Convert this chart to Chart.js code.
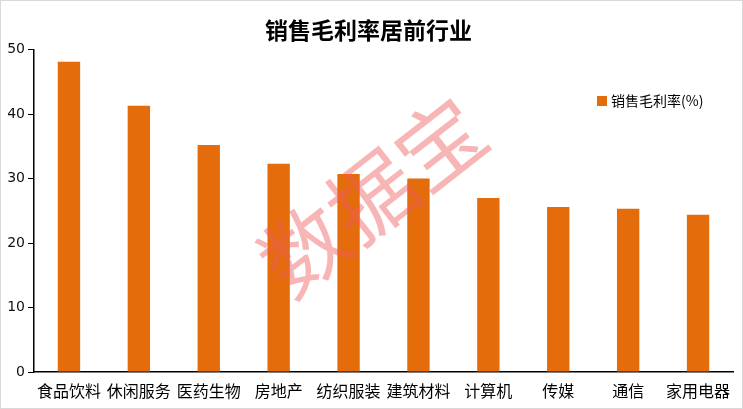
<!DOCTYPE html>
<html>
<head>
<meta charset="utf-8">
<script src="https://cdn.jsdelivr.net/npm/chart.js@4/dist/chart.umd.min.js"></script>
<style>
  html, body { margin: 0; padding: 0; background: #fff; }
  #wrap { width: 743px; height: 409px; }
</style>
</head>
<body>
<div id="wrap"><canvas id="c" width="743" height="409"></canvas></div>
<script>
// 销售毛利率居前行业 — bar chart

const industries = ['食品饮料', '休闲服务', '医药生物', '房地产', '纺织服装', '建筑材料', '计算机', '传媒', '通信', '家用电器'];
const grossMargin = [48.1, 41.3, 35.2, 32.3, 30.7, 30.0, 27.0, 25.6, 25.3, 24.4];
const yTicks = [0, 10, 20, 30, 40, 50];

const CJK = '"Noto Sans CJK SC", sans-serif';
const ORANGE = '#E46C0A';

// ---------- Frame + legend + watermark ----------
const decor = {
    id: 'decor',
    afterDatasetsDraw(chart) {
        const ctx = chart.ctx;
        ctx.save();
        // watermark
        ctx.translate(372, 196);
        ctx.rotate(-38 * Math.PI / 180);
        ctx.font = '400 86px ' + CJK;
        ctx.fillStyle = 'rgba(240,90,90,0.45)';
        ctx.textAlign = 'center';
        ctx.textBaseline = 'middle';
        ctx.fillText('数据宝', 0, 0);
        ctx.restore();
    },
    afterDraw(chart) {
        const ctx = chart.ctx;
        ctx.save();
        // legend
        ctx.fillStyle = ORANGE;
        ctx.fillRect(597, 96, 10, 10);
        ctx.fillStyle = '#000';
        ctx.font = '14px ' + CJK;
        ctx.textBaseline = 'middle';
        ctx.fillText('销售毛利率(%)', 611, 101);
        // outer frame
        ctx.strokeStyle = '#d9d9d9';
        ctx.lineWidth = 1;
        ctx.strokeRect(0.5, 0.5, 742, 408);
        ctx.restore();
    }
};

new Chart(document.getElementById('c'), {
    type: 'bar',
    data: {
        labels: industries,
        datasets: [{
            label: '销售毛利率(%)',
            data: grossMargin,
            backgroundColor: ORANGE,
            categoryPercentage: 1,
            barPercentage: 0.32
        }]
    },
    options: {
        responsive: false,
        animation: false,
        layout: { padding: { left: 4, right: 10, top: 0, bottom: 0 } },
        plugins: {
            legend: { display: false },
            tooltip: { enabled: false },
            title: {
                display: true,
                text: '销售毛利率居前行业',
                color: '#000',
                font: { family: CJK, size: 23, weight: 'bold' },
                padding: { top: 16, bottom: 6 }
            }
        },
        scales: {
            x: {
                grid: { display: false, drawTicks: false },
                border: { color: '#000', width: 1.5 },
                ticks: {
                    color: '#000',
                    font: { family: CJK, size: 16 },
                    maxRotation: 0,
                    autoSkip: false,
                    padding: 9
                },
                afterFit: s => { s.height = 37; }
            },
            y: {
                min: 0,
                max: 50,
                afterBuildTicks: s => { s.ticks = yTicks.map(v => ({ value: v })); },
                grid: { drawOnChartArea: false, tickLength: 6, tickColor: '#000' },
                border: { color: '#000', width: 1.5 },
                ticks: {
                    color: '#111',
                    font: { family: '"DejaVu Sans", sans-serif', size: 14 },
                    padding: 3
                },
                afterFit: s => { s.width = 30; }
            }
        }
    },
    plugins: [decor]
});
</script>
</body>
</html>
